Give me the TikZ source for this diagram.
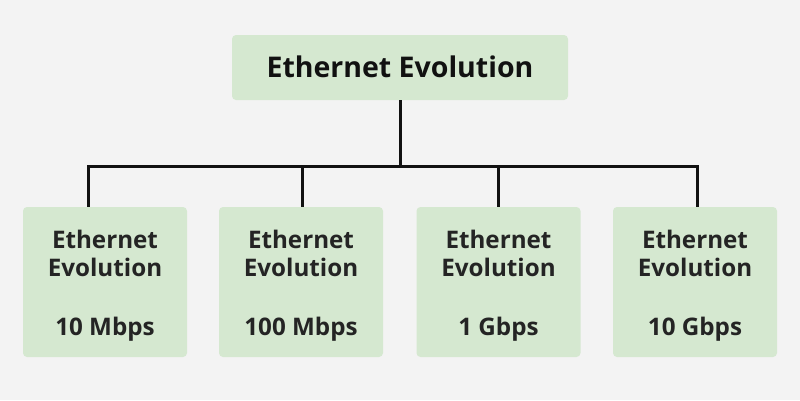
\documentclass[tikz,border=0pt]{standalone}
\usepackage{fontspec}
\setmainfont{Open Sans}
\newfontfamily\titlefont{Open Sans}
\newfontfamily\subfont{Open Sans}
\definecolor{bgc}{HTML}{F3F3F3}
\definecolor{boxc}{HTML}{D5E8D0}
\definecolor{inkc}{HTML}{111111}
\tikzset{
  boxbase/.style={fill=boxc, draw=none, rounded corners=4pt, inner sep=0pt},
  rootbox/.style={boxbase, minimum width=336pt, minimum height=65pt},
  leafbox/.style={boxbase, minimum width=164pt, minimum height=150pt},
  titletext/.style={anchor=base, text=inkc, font=\titlefont\fontsize{28.5}{30}\selectfont\bfseries, inner sep=0pt},
  leaftext/.style={anchor=base, text=inkc!92!white, font=\subfont\fontsize{24.2}{28}\selectfont\bfseries, inner sep=0pt},
  conn/.style={draw=inkc, line width=3pt, line join=miter, line cap=butt}
}
\begin{document}
\begin{tikzpicture}[x=1pt,y=-1pt]
\fill[bgc] (0,0) rectangle (800,400);
\useasboundingbox (0,0) rectangle (800,400);

\node[rootbox] (root) at (400,67.5) {};
\node[titletext] (roottxt) at (400,77.5) {Ethernet Evolution};

\node[leafbox] (b1) at (105,282) {};
\node[leafbox] (b2) at (301,282) {};
\node[leafbox] (b3) at (498.5,282) {};
\node[leafbox] (b4) at (695,282) {};

\foreach \n/\x/\s in {1/105/10 Mbps, 2/301/100 Mbps, 3/498.5/1 Gbps, 4/695/10 Gbps}{
  \node[leaftext] (l\n a) at (\x,248) {Ethernet};
  \node[leaftext] (l\n b) at (\x,276) {Evolution};
  \node[leaftext] (l\n c) at (\x,335) {\s};
}

\coordinate (bus) at (400,166);
\coordinate (t1) at (88,166);
\coordinate (t2) at (302,166);
\coordinate (t3) at (498,166);
\coordinate (t4) at (697,166);

\draw[conn] (root.south) -- (bus);
\draw[conn] (t1 |- b1.north) -- (t1) -- (t4) -- (t4 |- b4.north);
\draw[conn] (t2) -- (t2 |- b2.north);
\draw[conn] (t3) -- (t3 |- b3.north);
\end{tikzpicture}
\end{document}
